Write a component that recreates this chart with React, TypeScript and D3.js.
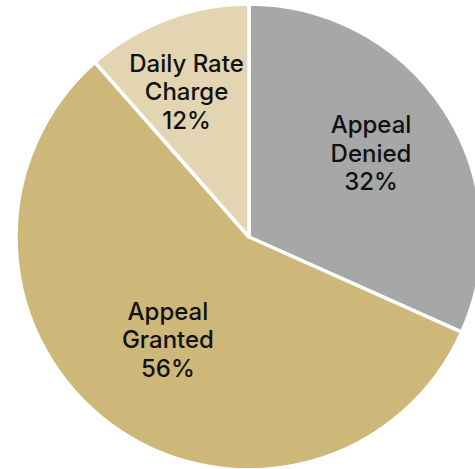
import React from "react";
import * as d3 from "d3";

const categories = ["Appeal Denied", "Appeal Granted", "Daily Rate Charge"];
const labelLines = [["Appeal", "Denied"], ["Appeal", "Granted"], ["Daily Rate", "Charge"]];
const values = [31.7, 56.8, 11.5];
const pctLabels = ["32%", "56%", "12%"];
const colors = ["#a6a7a7", "#cdb87a", "#e3d5b2"];
const labelRadiusFrac = [0.635, 0.562, 0.678];
const labelAngleNudgeDeg = [-1.5, 1.9, -2.6];

const W = 475;
const H = 469;
const cx = 249;
const cy = 237;
const R = 233;

export default function App() {
  const pie = d3.pie<number>().sort(null).value((d) => d);
  const arcs = pie(values);
  const arc = d3.arc<d3.PieArcDatum<number>>().innerRadius(0).outerRadius(R);
  const lh = 28.5;
  return (
    <svg width={W} height={H} style={{ position: "absolute", left: 0, top: 0, display: "block" }}>
      <g transform={`translate(${cx},${cy})`}>
        {arcs.map((a, i) => (
          <path key={categories[i]} d={arc(a) || ""} fill={colors[i]} stroke="#fff" strokeWidth={3.5} strokeLinejoin="round" />
        ))}
        {arcs.map((a, i) => {
          const r = R * labelRadiusFrac[i];
          const mid = (a.startAngle + a.endAngle) / 2 + (labelAngleNudgeDeg[i] * Math.PI) / 180;
          const x = r * Math.sin(mid);
          const y = -r * Math.cos(mid);
          const lines = [...labelLines[i], pctLabels[i]];
          return (
            <text key={"t" + i} x={x} y={y} textAnchor="middle" fontFamily="Inter, sans-serif" fontSize={24} fontWeight={500} fill="#111">
              {lines.map((l, j) => (
                <tspan key={j} x={x} y={y + (j - 1) * lh} dominantBaseline="central">{l}</tspan>
              ))}
            </text>
          );
        })}
      </g>
    </svg>
  );
}
